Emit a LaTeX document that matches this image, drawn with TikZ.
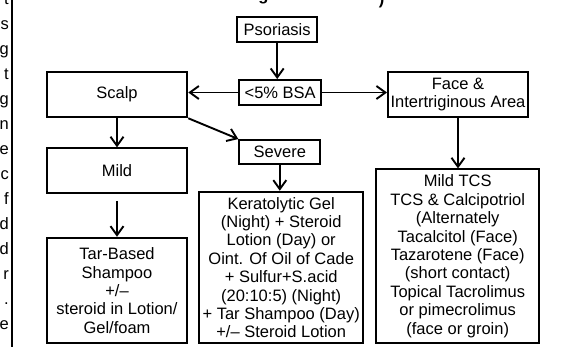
\documentclass[tikz,border=0pt]{standalone}
\usepackage{fontspec}
\setmainfont{Liberation Sans}
\usetikzlibrary{arrows.meta}
\begin{document}
\begin{tikzpicture}[x=1pt,y=-1pt,
  box/.style={draw,line width=1.9pt,inner sep=0pt,align=center,
    font=\fontsize{16.5}{18.4}\selectfont},
  conn/.style={line width=1.9pt,-{Straight Barb[length=9pt,width=13pt]}},
  frag/.style={inner sep=0pt,font=\fontsize{16.5}{20}\selectfont}]
\useasboundingbox (0,0) rectangle (565,351);
% fragments of neighbouring text
\foreach \c [count=\k from 0] in {t,s,g,t,g,n,e,c,f,d,d,r,.,e}
  \node[frag,anchor=base east] (l\k) at (9,{4+25*\k}) {\c};
\draw[line width=1.9pt] (12.3,0) -- (12.3,347);
\node[frag,anchor=base,font=\fontsize{16.5}{18}\selectfont\bfseries] (tg) at (263.5,0) {g};
\node[frag,anchor=base,font=\fontsize{16.5}{18}\selectfont\bfseries] (tp) at (381.5,4.5) {)};
% boxes
\node[box,minimum width=79.7pt,minimum height=24.4pt] (psor) at (277.2,29.5) {Psoriasis};
\node[box,minimum width=82.3pt,minimum height=25pt] (bsa) at (280.2,92.5) {<5\% BSA};
\node[box,minimum width=140.6pt,minimum height=45.6pt] (scalp) at (117,94.5) {Scalp};
\node[box,minimum width=140pt,minimum height=45.6pt,font=\fontsize{16.5}{17.7}\selectfont] (face) at (458,94.5) {Face \&\\Intertriginous Area};
\node[box,minimum width=81pt,minimum height=24pt] (severe) at (279.8,152) {Severe};
\node[box,minimum width=140.6pt,minimum height=45pt] (mild) at (117,170.8) {Mild};
\node[box,minimum width=140.6pt,minimum height=105.6pt] (tar) at (117,290.5)
  {Tar-Based\\Shampoo\\+/–\\steroid in Lotion/\\Gel/foam};
\node[box,minimum width=163.7pt,minimum height=151.6pt] (kera) at (281.2,267.5)
  {Keratolytic Gel\\(Night) + Steroid\\Lotion (Day) or\\Oint. Of Oil of Cade\\+ Sulfur+S.acid\\(20:10:5) (Night)\\+ Tar Shampoo (Day)\\+/– Steroid Lotion};
\node[box,minimum width=163.3pt,minimum height=173.7pt] (tcs) at (457.7,256.2)
  {Mild TCS\\TCS \& Calcipotriol\\(Alternately\\Tacalcitol (Face)\\Tazarotene (Face)\\(short contact)\\Topical Tacrolimus\\or pimecrolimus\\(face or groin)};
% connectors
\draw[conn] (psor.south) -- (psor.south |- bsa.north);
\draw[conn] (bsa.west) -- (bsa.west -| scalp.east);
\draw[conn] (bsa.east) -- (bsa.east -| face.west);
\draw[conn] (scalp.south) -- (mild.north);
\draw[conn] (scalp.south east) -- (severe.north west);
\draw[conn] (severe.south) -- (severe.south |- kera.north);
\draw[conn] (face.south) -- (face.south |- tcs.north);
\draw[conn,shorten <=6.7pt] (mild.south) -- (tar.north);
\end{tikzpicture}
\end{document}
